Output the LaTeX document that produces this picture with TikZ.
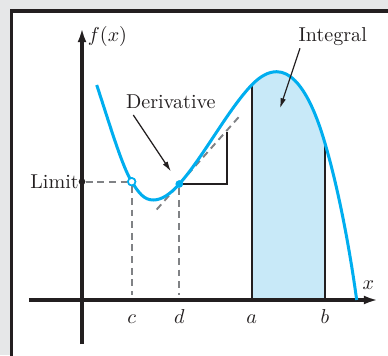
\documentclass[tikz,border=0pt]{standalone}
\usepackage{tikz}
\usetikzlibrary{arrows.meta, positioning}

\definecolor{curvecyan}{HTML}{00AEEF}
\definecolor{areablue}{HTML}{C8E9F8}
\definecolor{inkdark}{HTML}{231F20}
\definecolor{dashgray}{HTML}{808285}
\definecolor{pagegray}{HTML}{E6E7E8}

\begin{document}
\begin{tikzpicture}[
    x=0.175cm, y=0.175cm,
    >=Latex, % Set default arrow tip style
    axis/.style={-{Latex[length=7pt, width=4.4pt]}, line width=1.5pt, inkdark}, % Style for axes
    curve/.style={curvecyan, line width=1.5pt}, % Style for f(x)
    guide/.style={dashgray, line width=0.95pt, dash pattern=on 3.4pt off 2.4pt}, % Style for dashed helper lines
    edge/.style={inkdark, line width=0.9pt}, % Style for thin solid lines
    pointer/.style={-{Latex[length=5pt, width=2.8pt]}, inkdark, line width=0.6pt}, % Style for label arrows
    labelstyle/.style={inkdark}, % Style for text labels
    ticklabel/.style={inkdark, anchor=base}, % Style for c, d, a, b
    opendot/.style={circle, draw=curvecyan, line width=0.8pt, fill=white, inner sep=0pt, minimum size=3.7pt},
    fulldot/.style={circle, fill=#1, inner sep=0pt, minimum size=3.7pt}
]

    % --- Page and panel ---
    \useasboundingbox (-8.2,-5.5) rectangle (30.6,30.0);
    \fill[pagegray] (-8.2,-5.5) rectangle (30.6,30.0);
    \fill[white] (-7.03,-6) rectangle (31,28.9);
    \draw[inkdark, line width=1.6pt] (-7.03,-6) -- (-7.03,28.9) -- (31,28.9);

    % Key x positions
    \def\xc{4.97}
    \def\xd{9.73}
    \def\xa{16.97}
    \def\xb{24.3}
    % The function f(x), piece by piece
    \def\fcurve{(1.47,21.5) .. controls (2.67,17.9) and (3.97,13.43) .. (4.97,11.83)
        .. controls (5.67,10.71) and (6.2,10.0) .. (7.13,10.0)
        .. controls (8.0,10.0) and (8.88,10.64) .. (9.73,11.6)
        .. controls (12.13,14.3) and (14.57,19.0) .. (16.97,21.5)
        .. controls (17.82,22.39) and (18.66,22.83) .. (19.47,22.83)
        .. controls (22.2,22.83) and (23.85,17.2) .. (24.3,15.67)
        .. controls (25.6,11.25) and (26.72,5.48) .. (27.47,0)}

    % --- Integral area under the curve ---
    \begin{scope}
        \clip \fcurve -- (27.47,-1) -- (1.47,-1) -- cycle;
        \fill[areablue] (\xa,0) rectangle (\xb,25);
        \draw[edge] (\xa,0) -- (\xa,25) (\xb,0) -- (\xb,25);
    \end{scope}

    % --- Axes ---
    \draw[axis] (-5.3,0) -- (29.6,0);
    \draw[axis] (0,-4.4) -- (0,27.2);
    \node[labelstyle] (xlabel) at (28.63,1.5) {$x$};
    \node[labelstyle] (ylabel) at (2.55,26.4) {$f(x)$};

    % --- Points on the curve ---
    \node[fulldot=inkdark, minimum size=3.3pt] (limitdot) at (0,11.83) {};
    \node[opendot] (cpt) at (\xc,11.83) {};
    \node[fulldot=curvecyan] (dpt) at (\xd,11.6) {};
    \coordinate (cfoot) at (\xc,0.5);
    \coordinate (dfoot) at (\xd,0.5);

    % Dashed guides
    \draw[guide] (limitdot) -- (cpt);
    \draw[guide] (cpt) -- (cfoot);
    \draw[guide] (dpt) -- (dfoot);

    % Tangent and slope triangle at d
    \coordinate (tanlow) at (7.47,9.05);
    \coordinate (tanhigh) at (15.9,18.55);
    \coordinate (runend) at (14.47,11.6);
    \coordinate (risetop) at (14.47,16.83);
    \draw[guide] (tanlow) -- (tanhigh);
    \draw[edge] (dpt) -- (runend) -- (risetop);

    % --- The function ---
    \draw[curve] \fcurve;
    \node[opendot] at (cpt) {};
    \node[fulldot=curvecyan] at (dpt) {};

    % --- Labels ---
    \node[labelstyle, left=-0.4pt of limitdot, inner sep=0pt] (limit) {Limit};
    \node[labelstyle] (deriv) at (8.88,19.85) {Derivative};
    \node[labelstyle] (integral) at (25.08,26.3) {Integral};
    \coordinate (derivtail) at (5.13,18.5);
    \coordinate (inttail) at (21.8,25.17);
    \coordinate (inthead) at (19.8,19.17);
    \draw[pointer, shorten >=5.5pt] (derivtail) -- (dpt);
    \draw[pointer] (inttail) -- (inthead);

    % Tick labels
    \node[ticklabel] (clabel) at (\xc,-2.33) {$c$};
    \node[ticklabel] (dlabel) at (\xd,-2.33) {$d$};
    \node[ticklabel] (alabel) at (\xa,-2.33) {$a$};
    \node[ticklabel] (blabel) at (\xb,-2.33) {$b$};

\end{tikzpicture}
\end{document}
